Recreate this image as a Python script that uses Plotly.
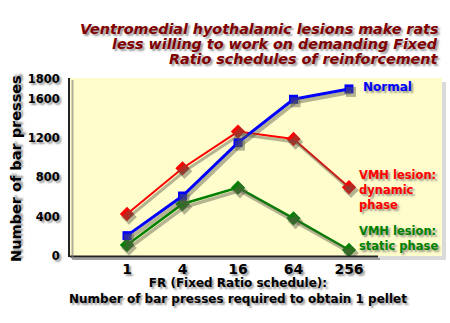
import plotly.graph_objects as go

# ---- data ----
fr_labels = ["1", "4", "16", "64", "256"]
normal = [207, 610, 1153, 1594, 1699]
vmh_dynamic = [427, 892, 1265, 1190, 699]
vmh_static = [112, 529, 695, 383, 61]
y_ticks = [0, 400, 800, 1200, 1600, 1800]

W, H = 450, 323
L, R, T, B = 70, 442, 78, 257  # plot area in pixels
PW, PH = R - L, B - T

def px(x):
    return (x - L) / PW

def py(y):
    return (B - y) / PH

FONT = "DejaVu Sans"
SHADOW = "2px 2px 2px rgba(80,80,80,0.6)"

# category range: "1" at x=127 px, spacing 55.5 px
cat0, step = 127, 55.5
xr = [-(cat0 - L) / step, (R - cat0) / step]
# y: 0 at 256px, 1800 at 79px
upp = 1800 / (256 - 79)
yr = [-(B - 256) * upp, 1800 + (79 - T) * upp]

# shadow ranges (shift 2px right, 3px down)
sx, sy = 2, 3
xr2 = [xr[0] - sx / step, xr[1] - sx / step]
yr2 = [yr[0] + sy * upp, yr[1] + sy * upp]

series = [
    ("Normal", normal, "#0000FF", "square", 3, 9),
    ("VMH dynamic", vmh_dynamic, "#FF0000", "diamond", 2, 11),
    ("VMH static", vmh_static, "#008000", "diamond", 2.5, 11),
]

fig = go.Figure()
# shadows
for name, vals, col, sym, lw, ms in series:
    fig.add_trace(go.Scatter(
        x=fr_labels, y=vals, mode="lines+markers", xaxis="x2", yaxis="y2",
        line=dict(color="rgba(90,90,70,0.45)", width=lw + 1),
        marker=dict(symbol=sym, size=ms + 1, color="rgba(90,90,70,0.45)"),
        hoverinfo="skip", showlegend=False))
# main
order = [series[1], series[2], series[0]]
for name, vals, col, sym, lw, ms in order:
    fig.add_trace(go.Scatter(
        x=fr_labels, y=vals, mode="lines+markers", name=name,
        line=dict(color=col, width=lw),
        marker=dict(symbol=sym, size=ms, color=col),
        showlegend=False))

shapes = [
    # panel shadow
    dict(type="rect", xref="paper", yref="paper", layer="below",
         x0=px(L + 4), x1=px(R + 4), y0=py(B + 3), y1=py(T + 4),
         fillcolor="rgba(150,150,150,0.35)", line=dict(width=0)),
    # panel
    dict(type="rect", xref="paper", yref="paper", layer="below",
         x0=0, x1=1, y0=py(B - 1), y1=1,
         fillcolor="#FFFDCC", line=dict(width=0)),
    # x-axis line shadow
    dict(type="line", xref="paper", yref="paper",
         x0=px(L + 2), x1=px(380), y0=py(B + 2), y1=py(B + 2),
         line=dict(color="rgba(120,120,120,0.6)", width=2)),
    # x-axis line
    dict(type="line", xref="paper", yref="paper",
         x0=0, x1=px(378), y0=py(B - 0.5), y1=py(B - 0.5),
         line=dict(color="#222222", width=2)),
    # y-axis line shadow
    dict(type="line", xref="paper", yref="paper",
         x0=px(L + 2.5), x1=px(L + 2.5), y0=py(B + 2), y1=py(T + 2),
         line=dict(color="rgba(120,120,120,0.6)", width=2)),
]

def ann(text, x, y, size, color="#000000", xanchor="center", yanchor="middle",
        style="normal", angle=0, align="center"):
    return dict(text=text, xref="paper", yref="paper", x=px(x), y=py(y),
                xanchor=xanchor, yanchor=yanchor, showarrow=False, textangle=angle,
                align=align,
                font=dict(family=FONT, size=size, color=color, weight="bold",
                          style=style, shadow=SHADOW))

annotations = [
    ann("Ventromedial hyothalamic lesions make rats", 440, 28.5, 14.3, "#800000", "right", style="italic"),
    ann("less willing to work on demanding Fixed", 440, 44, 14.3, "#800000", "right", style="italic"),
    ann("Ratio schedules of reinforcement", 440, 59.5, 14.3, "#800000", "right", style="italic"),
    ann("Number of bar presses", 16, 169, 14.5, angle=-90),
    ann("FR (Fixed Ratio schedule):<br>Number of bar presses required to obtain 1 pellet", 238, 291, 12),
    ann("Normal", 361, 87, 12, "#0000FF", "left"),
    ann("VMH lesion:<br>dynamic<br>phase", 357, 189.5, 11.5, "#FF0000", "left", align="left"),
    ann("VMH lesion:<br>static phase", 357, 238, 11.5, "#008000", "left", align="left"),
]

fig.update_layout(
    width=W, height=H,
    margin=dict(l=L, r=W - R, t=T, b=H - B, pad=0),
    paper_bgcolor="#FFFFFF", plot_bgcolor="rgba(0,0,0,0)",
    showlegend=False,
    xaxis=dict(type="category", range=xr, showgrid=False, zeroline=False, showline=False,
               ticks="", ticklabelstandoff=2,
               tickfont=dict(family=FONT, size=14, color="#000000", weight="bold", shadow=SHADOW)),
    yaxis=dict(range=yr, tickvals=y_ticks, ticktext=[str(v) for v in y_ticks],
               showgrid=False, zeroline=False, showline=True, linecolor="#222222", linewidth=2,
               ticks="", ticklabelstandoff=6,
               tickfont=dict(family=FONT, size=11.5, color="#000000", weight="bold", shadow=SHADOW)),
    xaxis2=dict(type="category", range=xr2, overlaying="x", visible=False),
    yaxis2=dict(range=yr2, overlaying="y", visible=False),
    shapes=shapes,
    annotations=annotations,
)

fig.write_html("out.html")
